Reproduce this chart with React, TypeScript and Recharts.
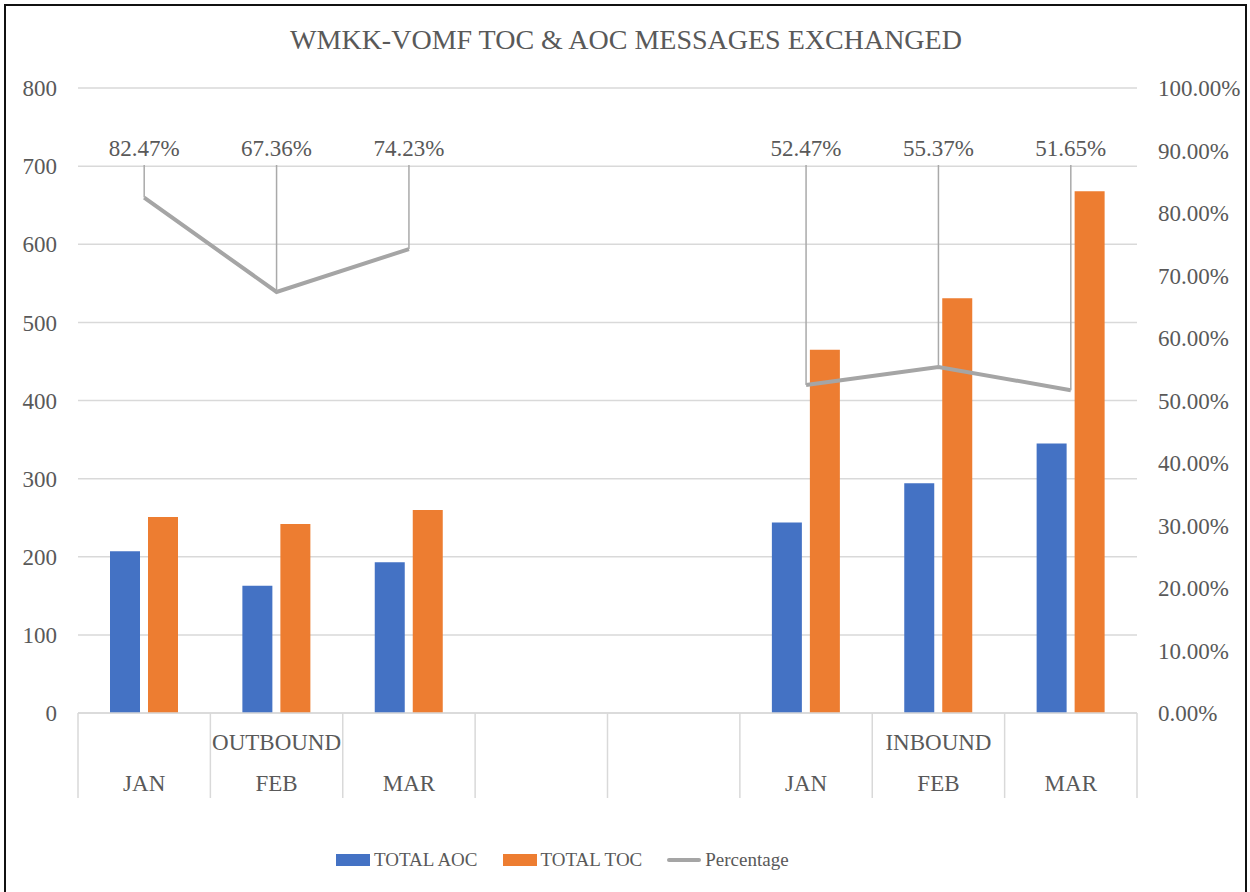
import { ComposedChart, Bar, Line, XAxis, YAxis, CartesianGrid, Legend, LabelList } from 'recharts'

const categories = ['JAN', 'FEB', 'MAR', '', '', 'JAN', 'FEB', 'MAR']
const totalAoc = [207, 163, 193, null, null, 244, 294, 345]
const totalToc = [251, 242, 260, null, null, 465, 531, 668]
const percentage = [82.47, 67.36, 74.23, null, null, 52.47, 55.37, 51.65]
const groups = [
  { label: 'OUTBOUND', from: 0, to: 2 },
  { label: 'INBOUND', from: 5, to: 7 },
]
const leftTicks = [0, 100, 200, 300, 400, 500, 600, 700, 800]
const rightTicks = [0, 10, 20, 30, 40, 50, 60, 70, 80, 90, 100]
const legendOrder = ['TOTAL AOC', 'TOTAL TOC', 'Percentage']

const W = 1250
const H = 892
const FONT = '"Liberation Serif", "Times New Roman", serif'
const TEXT = '#595959'
const GRID = '#D9D9D9'
const leftW = 78
const rightW = 113
const margin = { top: 88, right: 0, bottom: 70, left: 0 }
const band = (W - leftW - rightW) / categories.length

const data = categories.map((c, i) => ({
  key: `${i}-${c}`,
  aoc: totalAoc[i],
  toc: totalToc[i],
  pct: percentage[i],
}))

const CatTick = (props: any) => {
  const { x, y, index } = props
  const grp = groups.find(g => (g.from + g.to) / 2 === index)
  const last = index === categories.length - 1
  return (
    <g>
      <line x1={x - band / 2} y1={y} x2={x - band / 2} y2={y + 85} stroke={GRID} strokeWidth={1.5} />
      {last && <line x1={x + band / 2} y1={y} x2={x + band / 2} y2={y + 85} stroke={GRID} strokeWidth={1.5} />}
      {grp && (
        <text x={x} y={y + 37} textAnchor="middle" fill={TEXT} fontSize={23} style={{ fontFamily: FONT }}>{grp.label}</text>
      )}
      <text x={x} y={y + 78} textAnchor="middle" fill={TEXT} fontSize={23} style={{ fontFamily: FONT }}>{categories[index]}</text>
    </g>
  )
}

const PctLabel = (props: any) => {
  const { x, y, value } = props
  if (value == null || x == null || y == null) return null
  const top = margin.top + 77
  return (
    <g>
      <line x1={x} y1={top} x2={x} y2={y} stroke="#A9A9A9" strokeWidth={1.5} />
      <text x={x} y={top - 9} textAnchor="middle" fill={TEXT} fontSize={23} style={{ fontFamily: FONT }}>{`${Number(value).toFixed(2)}%`}</text>
    </g>
  )
}

const renderLegend = (props: any) => {
  const items = [...(props.payload || [])].sort((a: any, b: any) => legendOrder.indexOf(a.value) - legendOrder.indexOf(b.value))
  return (
    <div style={{ display: 'flex', alignItems: 'center', fontFamily: FONT, fontSize: 19, color: TEXT, lineHeight: '24px', whiteSpace: 'nowrap' }}>
      {items.map((p: any) => (
        <span key={p.value} style={{ display: 'flex', alignItems: 'center', marginRight: 25 }}>
          <span style={{ display: 'inline-block', width: 34, height: p.type === 'line' ? 4 : 12, background: p.color, borderRadius: p.type === 'line' ? 2 : 0, marginRight: 4 }} />
          {p.value}
        </span>
      ))}
    </div>
  )
}

export default function App() {
  return (
    <div style={{ position: 'fixed', left: 0, top: 0, width: W, height: H, overflow: 'hidden', background: '#fff' }}>
      <div style={{ position: 'absolute', left: 4, top: 4, width: 1239, height: 900, border: '2px solid #111' }} />
      <div style={{ position: 'absolute', left: 0, top: 24, width: 1252, textAlign: 'center', fontFamily: FONT, fontSize: 28, color: TEXT }}>
        WMKK-VOMF TOC &amp; AOC MESSAGES EXCHANGED
      </div>
      <ComposedChart width={W} height={H} data={data} margin={margin} barSize={30} barGap={8}>
        <CartesianGrid yAxisId="left" vertical={false} stroke={GRID} strokeWidth={1.5} />
        <XAxis dataKey="key" height={85} tick={CatTick} tickLine={false} tickSize={0} tickMargin={0} axisLine={{ stroke: GRID, strokeWidth: 1.5 }} interval={0} />
        <YAxis yAxisId="left" width={leftW} domain={[0, 800]} ticks={leftTicks} axisLine={false} tickLine={false} tickSize={0} tickMargin={21}
          tick={{ fill: TEXT, fontSize: 23, style: { fontFamily: FONT } }} />
        <YAxis yAxisId="right" orientation="right" width={rightW} domain={[0, 100]} ticks={rightTicks} axisLine={false} tickLine={false} tickSize={0} tickMargin={21}
          tick={{ fill: TEXT, fontSize: 23, textAnchor: 'start', style: { fontFamily: FONT } }} tickFormatter={(v: number) => `${v.toFixed(2)}%`} />
        <Legend content={renderLegend} wrapperStyle={{ left: 336, top: 848, bottom: 'auto', width: 'auto' }} />
        <Bar yAxisId="left" dataKey="aoc" name="TOTAL AOC" fill="#4472C4" isAnimationActive={false} />
        <Bar yAxisId="left" dataKey="toc" name="TOTAL TOC" fill="#ED7D31" isAnimationActive={false} />
        <Line yAxisId="right" dataKey="pct" name="Percentage" stroke="#A5A5A5" strokeWidth={4} dot={false} activeDot={false} isAnimationActive={false} legendType="line">
          <LabelList dataKey="pct" content={PctLabel} />
        </Line>
      </ComposedChart>
    </div>
  )
}
